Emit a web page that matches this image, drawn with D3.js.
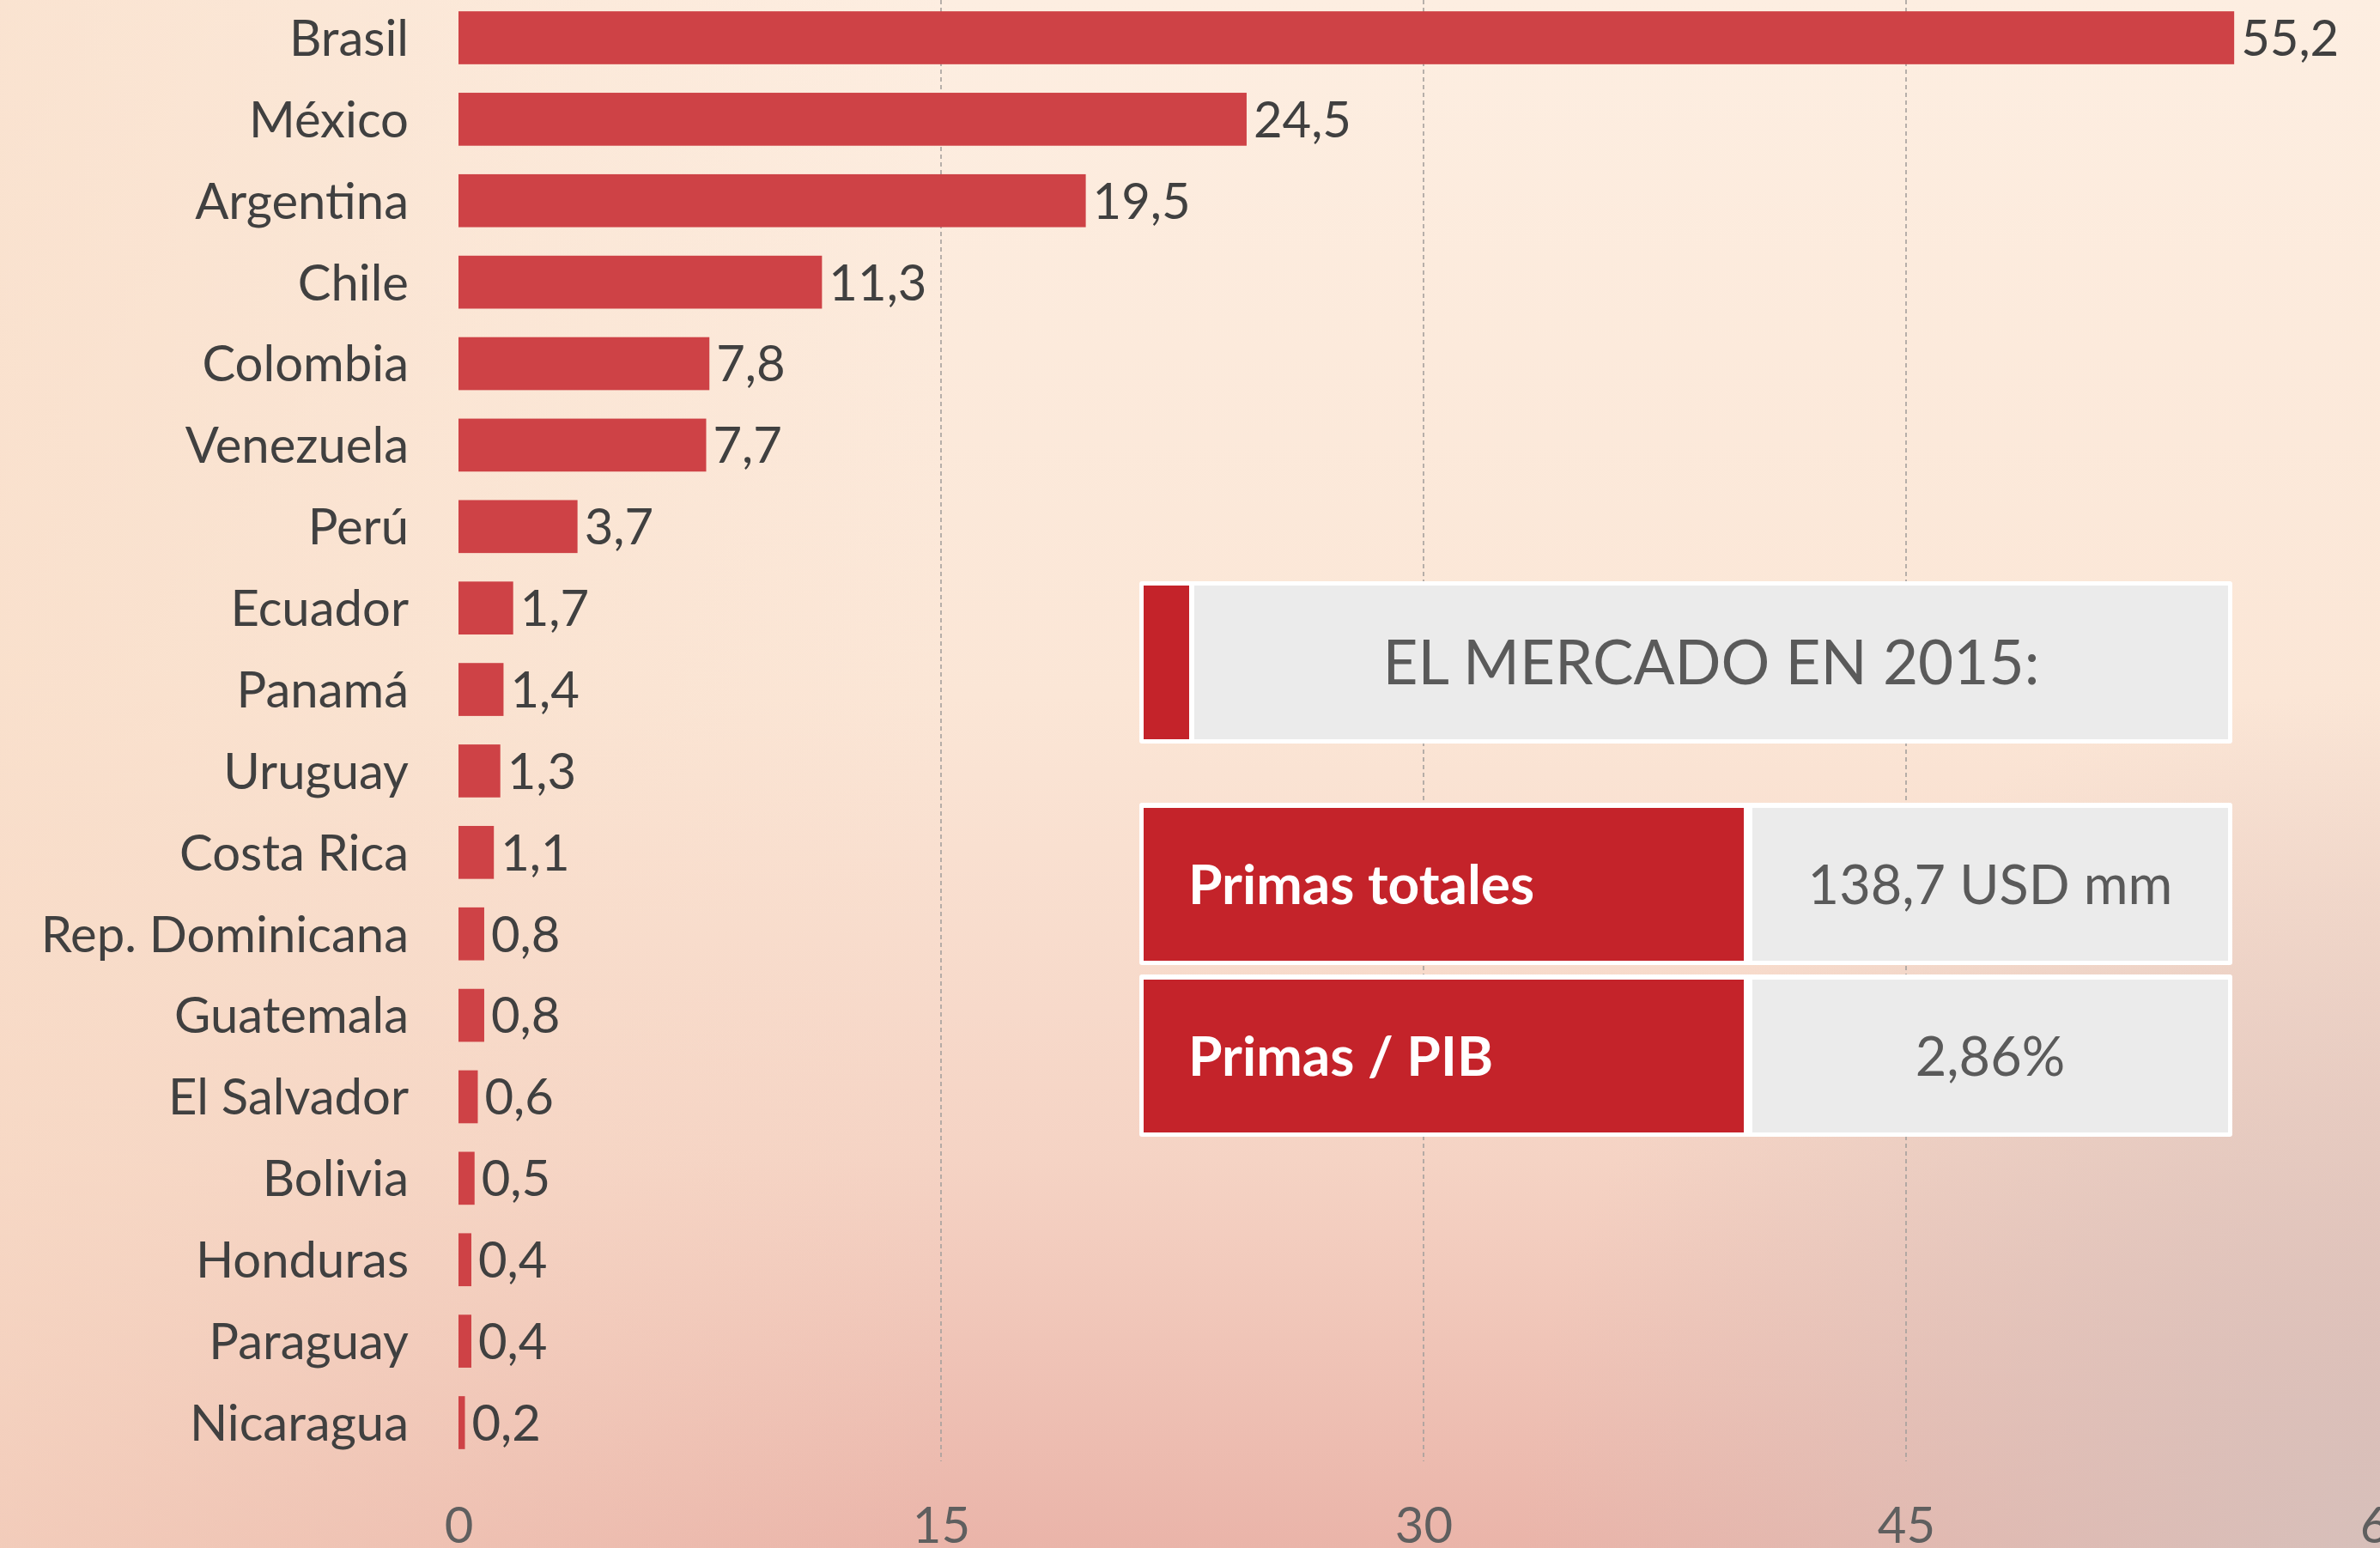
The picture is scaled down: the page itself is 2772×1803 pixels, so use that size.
<!DOCTYPE html>
<html>
<head>
<meta charset="utf-8">
<script src="https://cdn.jsdelivr.net/npm/d3@7"></script>
<style>
  html, body { margin: 0; padding: 0; overflow: hidden; }
  body { width: 2772px; height: 1803px; }
  #chart { width: 2772px; height: 1803px; }
  text { font-family: Lato, "Open Sans", sans-serif; }
</style>
</head>
<body>
<div id="chart"></div>
<script>
const countries = ["Brasil", "México", "Argentina", "Chile", "Colombia", "Venezuela", "Perú", "Ecuador",
  "Panamá", "Uruguay", "Costa Rica", "Rep. Dominicana", "Guatemala", "El Salvador", "Bolivia",
  "Honduras", "Paraguay", "Nicaragua"];
const primas = [55.2, 24.5, 19.5, 11.3, 7.8, 7.7, 3.7, 1.7, 1.4, 1.3, 1.1, 0.8, 0.8, 0.6, 0.5, 0.4, 0.4, 0.2];
const xTicks = [0, 15, 30, 45, 60];

const boxTitle = "EL MERCADO EN 2015:";
const boxLabels = ["Primas totales", "Primas / PIB"];
const boxValues = ["138,7 USD mm", "2,86%"];

const data = countries.map((c, i) => ({ country: c, value: primas[i] }));

const width = 2772, height = 1803;
const svg = d3.select("#chart").append("svg").attr("width", width).attr("height", height);

// background
const defs = svg.append("defs");
const bg = defs.append("linearGradient").attr("id", "bg").attr("x1", 0).attr("y1", 0).attr("x2", 0).attr("y2", 1);
bg.append("stop").attr("offset", 0).attr("stop-color", "#fdeee1");
bg.append("stop").attr("offset", 0.45).attr("stop-color", "#fbe6d6");
bg.append("stop").attr("offset", 0.75).attr("stop-color", "#f5d3c4");
bg.append("stop").attr("offset", 1).attr("stop-color", "#eab4a9");

const left = defs.append("linearGradient").attr("id", "bgLeft").attr("x1", 0).attr("y1", 0).attr("x2", 1).attr("y2", 0);
left.append("stop").attr("offset", 0).attr("stop-color", "#f8dcc6").attr("stop-opacity", 0.6);
left.append("stop").attr("offset", 0.4).attr("stop-color", "#f8dcc6").attr("stop-opacity", 0);

const corner = defs.append("radialGradient").attr("id", "bgCorner")
  .attr("gradientUnits", "userSpaceOnUse").attr("cx", width).attr("cy", height).attr("r", 1000);
corner.append("stop").attr("offset", 0).attr("stop-color", "#d6c0bb").attr("stop-opacity", 0.95);
corner.append("stop").attr("offset", 1).attr("stop-color", "#d6c0bb").attr("stop-opacity", 0);

svg.append("rect").attr("width", width).attr("height", height).attr("fill", "url(#bg)");
svg.append("rect").attr("width", width).attr("height", height).attr("fill", "url(#bgLeft)");
svg.append("rect").attr("width", width).attr("height", height).attr("fill", "url(#bgCorner)");

// scales
const x = d3.scaleLinear().domain([0, 60]).range([534, 2782]);
const step = (1657 - 44) / (countries.length - 1);
const y = d3.scaleBand()
  .domain(countries)
  .range([44 - step / 2, 1657 + step / 2])
  .paddingInner(0.35)
  .paddingOuter(0.175);

const fmt = d3.formatLocale({ decimal: ",", thousands: ".", grouping: [3], currency: ["", ""] }).format(".1f");

// grid
svg.append("g")
  .selectAll("line")
  .data(xTicks.filter(t => t > 0))
  .join("line")
  .attr("x1", d => x(d)).attr("x2", d => x(d))
  .attr("y1", 0).attr("y2", 1702)
  .attr("stroke", "#a5a09d")
  .attr("stroke-width", 1.6)
  .attr("stroke-dasharray", "5,4");

// x axis labels (the last one sits on the right edge, clipped as in the original)
const xAxis = svg.append("g")
  .attr("transform", "translate(0,1756)")
  .call(d3.axisBottom(x).tickValues(xTicks).tickSize(0).tickPadding(0).tickFormat(d3.format("d")));
xAxis.select(".domain").remove();
xAxis.selectAll("text")
  .attr("font-family", "Lato, sans-serif")
  .attr("font-size", 58)
  .attr("fill", "#5f5f5f")
  .attr("dy", "0.71em");

// bars
svg.append("g")
  .selectAll("rect")
  .data(data)
  .join("rect")
  .attr("x", x(0))
  .attr("y", d => y(d.country))
  .attr("width", d => x(d.value) - x(0))
  .attr("height", y.bandwidth())
  .attr("fill", "#ce4246");

// category labels
svg.append("g")
  .selectAll("text")
  .data(data)
  .join("text")
  .attr("x", 476)
  .attr("y", d => y(d.country) + y.bandwidth() / 2)
  .attr("dy", "0.36em")
  .attr("text-anchor", "end")
  .attr("font-size", 58)
  .attr("fill", "#404040")
  .text(d => d.country);

// value labels
svg.append("g")
  .selectAll("text")
  .data(data)
  .join("text")
  .attr("x", d => x(d.value) + 8)
  .attr("y", d => y(d.country) + y.bandwidth() / 2)
  .attr("dy", "0.36em")
  .attr("font-size", 58)
  .attr("fill", "#404040")
  .text(d => fmt(d.value));

// info box
const box = svg.append("g");
const bx0 = 1327, bx1 = 2600, bw = 5;

box.append("rect").attr("x", bx0).attr("y", 677).attr("width", bx1 - bx0).attr("height", 189)
  .attr("rx", 3).attr("fill", "#ffffff");
box.append("rect").attr("x", bx0 + bw).attr("y", 682).attr("width", 53).attr("height", 179).attr("fill", "#c4232a");
box.append("rect").attr("x", 1391).attr("y", 682).attr("width", bx1 - bw - 1391).attr("height", 179).attr("fill", "#ebebeb");
box.append("text")
  .attr("x", (1391 + bx1 - bw) / 2).attr("y", 771.5).attr("dy", "0.36em")
  .attr("text-anchor", "middle").attr("font-size", 71).attr("fill", "#5a5a5a")
  .text(boxTitle);

const rowTop = [935, 1135];
const split = 2036;
boxLabels.forEach((lab, i) => {
  const t = rowTop[i];
  box.append("rect").attr("x", bx0).attr("y", t).attr("width", bx1 - bx0).attr("height", 189)
    .attr("rx", 3).attr("fill", "#ffffff");
  box.append("rect").attr("x", bx0 + bw).attr("y", t + 6).attr("width", split - bw - bx0 - bw).attr("height", 178)
    .attr("fill", "#c4232a");
  box.append("rect").attr("x", split + bw).attr("y", t + 6).attr("width", bx1 - bw - split - bw).attr("height", 178)
    .attr("fill", "#ebebeb");
  box.append("text")
    .attr("x", 1384).attr("y", t + 95).attr("dy", "0.36em")
    .attr("font-size", 64).attr("font-weight", "bold").attr("fill", "#ffffff")
    .text(lab);
  box.append("text")
    .attr("x", (split + bx1) / 2).attr("y", t + 95).attr("dy", "0.36em")
    .attr("text-anchor", "middle").attr("font-size", 63).attr("fill", "#5a5a5a")
    .text(boxValues[i]);
});
</script>
</body>
</html>
